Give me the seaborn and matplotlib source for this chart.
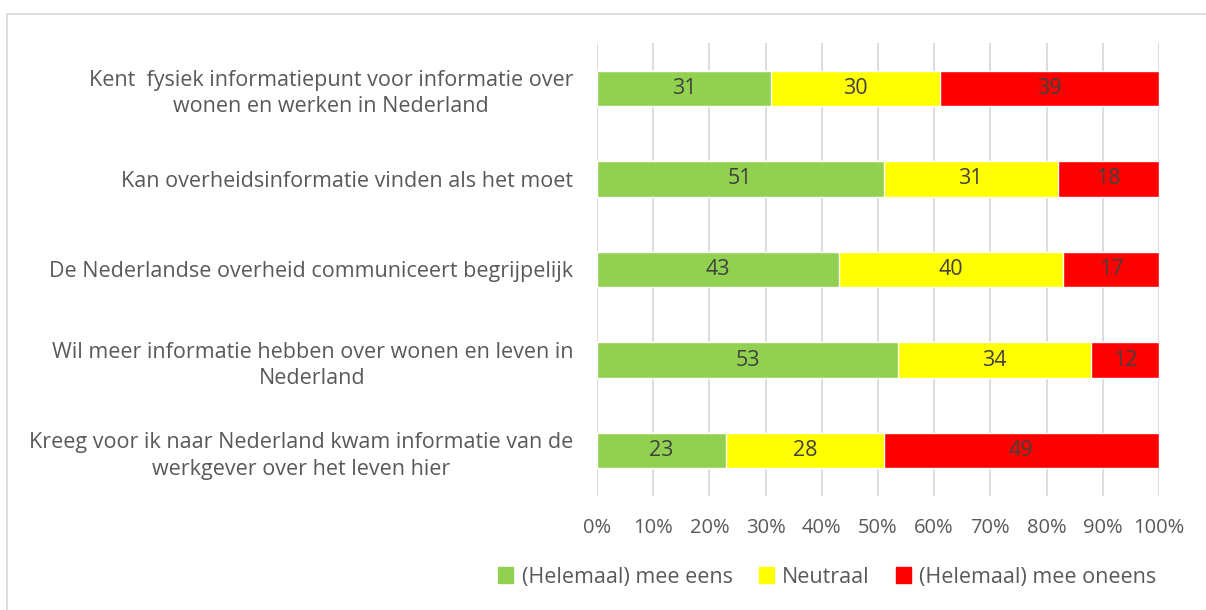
import matplotlib
matplotlib.use("Agg")
import matplotlib.pyplot as plt
import matplotlib.patches as mpatches
import seaborn as sns
import pandas as pd
import numpy as np

categories = [
    "Kent  fysiek informatiepunt voor informatie over\nwonen en werken in Nederland",
    "Kan overheidsinformatie vinden als het moet",
    "De Nederlandse overheid communiceert begrijpelijk",
    "Wil meer informatie hebben over wonen en leven in\nNederland",
    "Kreeg voor ik naar Nederland kwam informatie van de\nwerkgever over het leven hier",
]
eens = [31, 51, 43, 53, 23]
neutraal = [30, 31, 40, 34, 28]
oneens = [39, 18, 17, 12, 49]
series_names = ["(Helemaal) mee eens", "Neutraal", "(Helemaal) mee oneens"]
colors = ["#92D050", "#FFFF00", "#FF0000"]
xticks = [0, 10, 20, 30, 40, 50, 60, 70, 80, 90, 100]

sns.set_theme(style="white")
plt.rcParams["font.family"] = ["Open Sans", "DejaVu Sans"]
text_color = "#595959"

df = pd.DataFrame({"categorie": categories,
                   series_names[0]: eens,
                   series_names[1]: neutraal,
                   series_names[2]: oneens})
totals = df[series_names].sum(axis=1)
shares = df[series_names].div(totals, axis=0) * 100
cum = shares.cumsum(axis=1)

fig = plt.figure(figsize=(12.06, 6.10), dpi=100)
ax = fig.add_axes([0.495, 0.187, 0.466, 0.7426])

# 100% stacked bars: draw cumulative ends from the outermost segment inwards
for name, col in reversed(list(zip(series_names, colors))):
    sns.barplot(x=cum[name], y=df["categorie"], color=col, orient="h",
                width=0.39, ax=ax, saturation=1, legend=False, zorder=3)

for name in series_names:
    start = cum[name] - shares[name]
    for i in range(len(df)):
        ax.text(start[i] + shares[name][i] / 2, i, f"{df[name][i]}",
                ha="center", va="center", fontsize=15.5, color="#404040", zorder=4)

ax.set_xlim(0, 100)
ax.set_ylim(len(df) - 0.5, -0.5)
ax.set_xticks(xticks)
ax.set_xticklabels([f"{t}%" for t in xticks], fontsize=14.5, color=text_color)
ax.set_yticks(np.arange(len(df)))
ax.set_yticklabels(categories, fontsize=15.5, color=text_color, linespacing=1.35)
for lbl in ax.get_yticklabels():
    lbl.set_multialignment("center")
ax.set_xlabel("")
ax.set_ylabel("")
ax.tick_params(axis="x", length=0, pad=16)
ax.tick_params(axis="y", length=0, pad=17)

ax.grid(axis="x", color="#D9D9D9", linewidth=1.3, zorder=0)
ax.grid(axis="y", visible=False)
ax.set_axisbelow(True)
for s in ax.spines.values():
    s.set_visible(False)

handles = [mpatches.Patch(color=c, label=n) for c, n in zip(colors, series_names)]
fig.legend(handles=handles, loc="center", bbox_to_anchor=(0.686, 0.054), ncol=3,
           frameon=False, fontsize=15.5, labelcolor=text_color,
           handlelength=0.7, handleheight=0.7, handletextpad=0.4,
           columnspacing=1.2)

# outer chart border
fig.add_artist(mpatches.Rectangle((7 / 1206, -0.05), 1.2, 1 - 14 / 610 + 0.05,
                                  transform=fig.transFigure, fill=False,
                                  edgecolor="#D9D9D9", linewidth=1.3))

fig.savefig("out.png", dpi=100)
